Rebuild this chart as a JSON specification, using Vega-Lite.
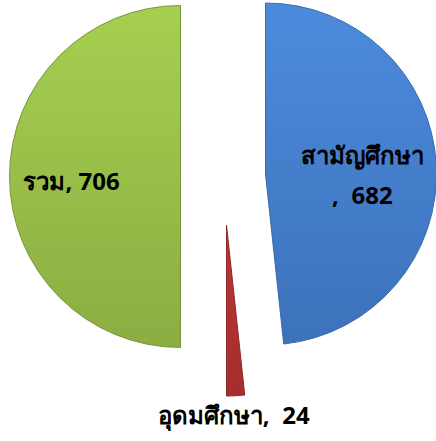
{
  "$schema": "https://vega.github.io/schema/vega-lite/v6.json",
  "width": 436,
  "height": 441,
  "padding": 0,
  "autosize": {"type": "fit", "contains": "padding"},
  "background": "white",
  "config": {"view": {"stroke": null}},
  "data": {
    "values": [
      {"order": 1, "name": "สามัญศึกษา", "value": 682, "label": "สามัญศึกษา\n, \u00a0682"},
      {"order": 2, "name": "อุดมศึกษา", "value": 24, "label": "อุดมศึกษา, \u00a024"},
      {"order": 3, "name": "รวม", "value": 706, "label": "รวม, 706"}
    ]
  },
  "layer": [
    {
      "transform": [
        {"stack": "value", "groupby": [], "sort": [{"field": "order"}], "as": ["v0", "v1"]},
        {"filter": "datum.name === 'สามัญศึกษา'"}
      ],
      "mark": {
        "type": "arc", "outerRadius": 171, "xOffset": 50, "yOffset": -46.5,
        "stroke": "#3A6AA8", "strokeWidth": 1,
        "fill": {"gradient": "linear", "x1": 0, "y1": 0, "x2": 0, "y2": 1,
          "stops": [{"offset": 0, "color": "#4C8BDC"}, {"offset": 1, "color": "#3D72BB"}]}
      },
      "encoding": {
        "theta": {"field": "v0", "type": "quantitative"},
        "theta2": {"field": "v1"}
      }
    },
    {
      "transform": [
        {"stack": "value", "groupby": [], "sort": [{"field": "order"}], "as": ["v0", "v1"]},
        {"filter": "datum.name === 'อุดมศึกษา'"}
      ],
      "mark": {
        "type": "arc", "outerRadius": 171, "xOffset": 11, "yOffset": 4.5,
        "stroke": "#8E2826", "strokeWidth": 1,
        "fill": {"gradient": "linear", "x1": 0, "y1": 0, "x2": 0, "y2": 1,
          "stops": [{"offset": 0, "color": "#B83634"}, {"offset": 1, "color": "#A52E2D"}]}
      },
      "encoding": {
        "theta": {"field": "v0", "type": "quantitative"},
        "theta2": {"field": "v1"}
      }
    },
    {
      "transform": [
        {"stack": "value", "groupby": [], "sort": [{"field": "order"}], "as": ["v0", "v1"]},
        {"filter": "datum.name === 'รวม'"}
      ],
      "mark": {
        "type": "arc", "outerRadius": 171, "xOffset": -35, "yOffset": -44,
        "stroke": "#78973A", "strokeWidth": 1,
        "fill": {"gradient": "linear", "x1": 0, "y1": 0, "x2": 0, "y2": 1,
          "stops": [{"offset": 0, "color": "#A6CF50"}, {"offset": 1, "color": "#8BAD42"}]}
      },
      "encoding": {
        "theta": {"field": "v0", "type": "quantitative"},
        "theta2": {"field": "v1"}
      }
    },
    {
      "mark": {"type": "text", "radius": 93, "xOffset": 50, "yOffset": -46.5, "dx": 4, "dy": -12,
        "fontSize": 24, "fontWeight": "bold", "font": "Tahoma, Noto Sans, DejaVu Sans, sans-serif", "color": "black",
        "lineBreak": "\n", "lineHeight": 40, "align": "center", "baseline": "middle"},
      "encoding": {
        "theta": {"field": "value", "type": "quantitative", "stack": true},
        "order": {"field": "order"},
        "text": {"condition": {"test": "datum.name === 'สามัญศึกษา'", "field": "label"}, "value": ""}
      }
    },
    {
      "mark": {"type": "text", "radius": 192, "xOffset": 11, "yOffset": 4.5, "dx": -3,
        "fontSize": 24, "fontWeight": "bold", "font": "Tahoma, Noto Sans, DejaVu Sans, sans-serif", "color": "black",
        "align": "center", "baseline": "middle"},
      "encoding": {
        "theta": {"field": "value", "type": "quantitative", "stack": true},
        "order": {"field": "order"},
        "text": {"condition": {"test": "datum.name === 'อุดมศึกษา'", "field": "label"}, "value": ""}
      }
    },
    {
      "mark": {"type": "text", "radius": 111, "xOffset": -35, "yOffset": -44, "dx": 2, "dy": 6,
        "fontSize": 24, "fontWeight": "bold", "font": "Tahoma, Noto Sans, DejaVu Sans, sans-serif", "color": "black",
        "align": "center", "baseline": "middle"},
      "encoding": {
        "theta": {"field": "value", "type": "quantitative", "stack": true},
        "order": {"field": "order"},
        "text": {"condition": {"test": "datum.name === 'รวม'", "field": "label"}, "value": ""}
      }
    }
  ]
}
